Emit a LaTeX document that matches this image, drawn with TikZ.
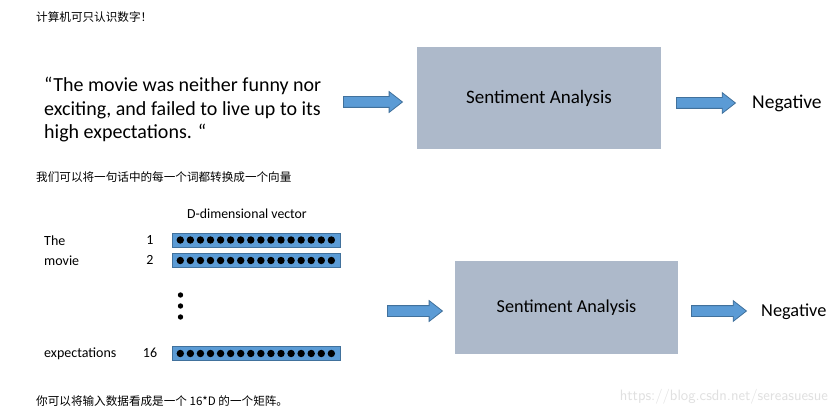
\documentclass[tikz,border=0pt]{standalone}
\usepackage{fontspec}
\setmainfont{Carlito}
\newfontfamily\cjk{Noto Sans CJK SC}
\usetikzlibrary{shapes.arrows}
\definecolor{boxgray}{HTML}{ADB9CA}
\definecolor{barblue}{HTML}{5B9BD5}
\definecolor{bardark}{HTML}{41719C}
\newcommand{\shaft}{\rule{0pt}{10pt}}
\tikzset{
  note/.style={anchor=west, inner sep=0pt, font=\cjk\fontsize{11.6}{13}\selectfont},
  word/.style={anchor=west, inner sep=0pt, font=\fontsize{14}{16}\selectfont},
  sabox/.style={draw=none, fill=boxgray, inner sep=0pt},
  fatarrow/.style={single arrow, fill=barblue, draw=bardark, line width=0.8pt,
    single arrow head extend=5pt, single arrow tip angle=76,
    inner sep=0pt, anchor=center},
  vecbar/.style={draw=bardark, fill=barblue, line width=0.6pt}
}
\begin{document}
\begin{tikzpicture}[x=1pt, y=-1pt]
    \useasboundingbox[fill=white] (0,0) rectangle (838,414);
    % notes
    \node[note] (n1) at (36,17) {计算机可只认识数字！};
    \node[note] (n2) at (36,177) {我们可以将一句话中的每一个词都转换成一个向量};
    \node[note] (n3) at (36,401) {你可以将输入数据看成是一个 16*D 的一个矩阵。};
    % first row
    \node[anchor=west, inner sep=0pt, align=left, font=\fontsize{20}{23.5}\selectfont] (quote) at (44,110)
        {“The movie was neither funny nor\\exciting, and failed to live up to its\\high expectations. “};
    \node[sabox, minimum width=244pt, minimum height=102pt, font=\fontsize{19}{22}\selectfont] (sa1) at (539,98) {Sentiment Analysis};
    \node[fatarrow, minimum height=59pt] (a1) at (369.5,102) {\shaft};
    \node[fatarrow, minimum height=59pt] (a2) at (702.5,103) {\shaft};
    \node[anchor=west, inner sep=0pt, font=\fontsize{19.5}{22}\selectfont] (neg1) at (752,103) {Negative};
    % vectors
    \node[anchor=base, inner sep=0pt, font=\fontsize{13.8}{16}\selectfont] (dlab) at (247,219) {D-dimensional vector};
    \node[word] (w1) at (44,241) {The};
    \node[word] (w2) at (44,261) {movie};
    \node[word] (w3) at (44,354) {expectations};
    \node[word, anchor=center] (i1) at (150,240) {1};
    \node[word, anchor=center] (i2) at (150,260) {2};
    \node[word, anchor=center] (i3) at (150,353) {16};
    \foreach \y/\nm in {240/b1, 260.5/b2, 353.5/b3} {
        \draw[vecbar] (172,\y-7) rectangle (340,\y+7);
        \foreach \k in {0,...,15}
            \fill (180.3+10.07*\k,\y) circle (3.7);
    }
    \foreach \y in {295,306,317}
        \fill (180.5,\y) circle (2.7);
    % second row
    \node[sabox, minimum width=223pt, minimum height=93pt, font=\fontsize{18.2}{21}\selectfont] (sa2) at (566.5,307.5) {Sentiment Analysis};
    \node[fatarrow, minimum height=55pt] (a3) at (411.5,311) {\shaft};
    \node[fatarrow, minimum height=55pt] (a4) at (715.5,311) {\shaft};
    \node[anchor=west, inner sep=0pt, font=\fontsize{18.3}{21}\selectfont] (neg2) at (761,312) {Negative};
    % watermark
    \node[anchor=east, inner sep=0pt, text=black!12, font=\fontfamily{lmss}\fontsize{15}{17}\selectfont] (wm) at (828,397) {https://blog.csdn.net/sereasuesue};
\end{tikzpicture}
\end{document}
